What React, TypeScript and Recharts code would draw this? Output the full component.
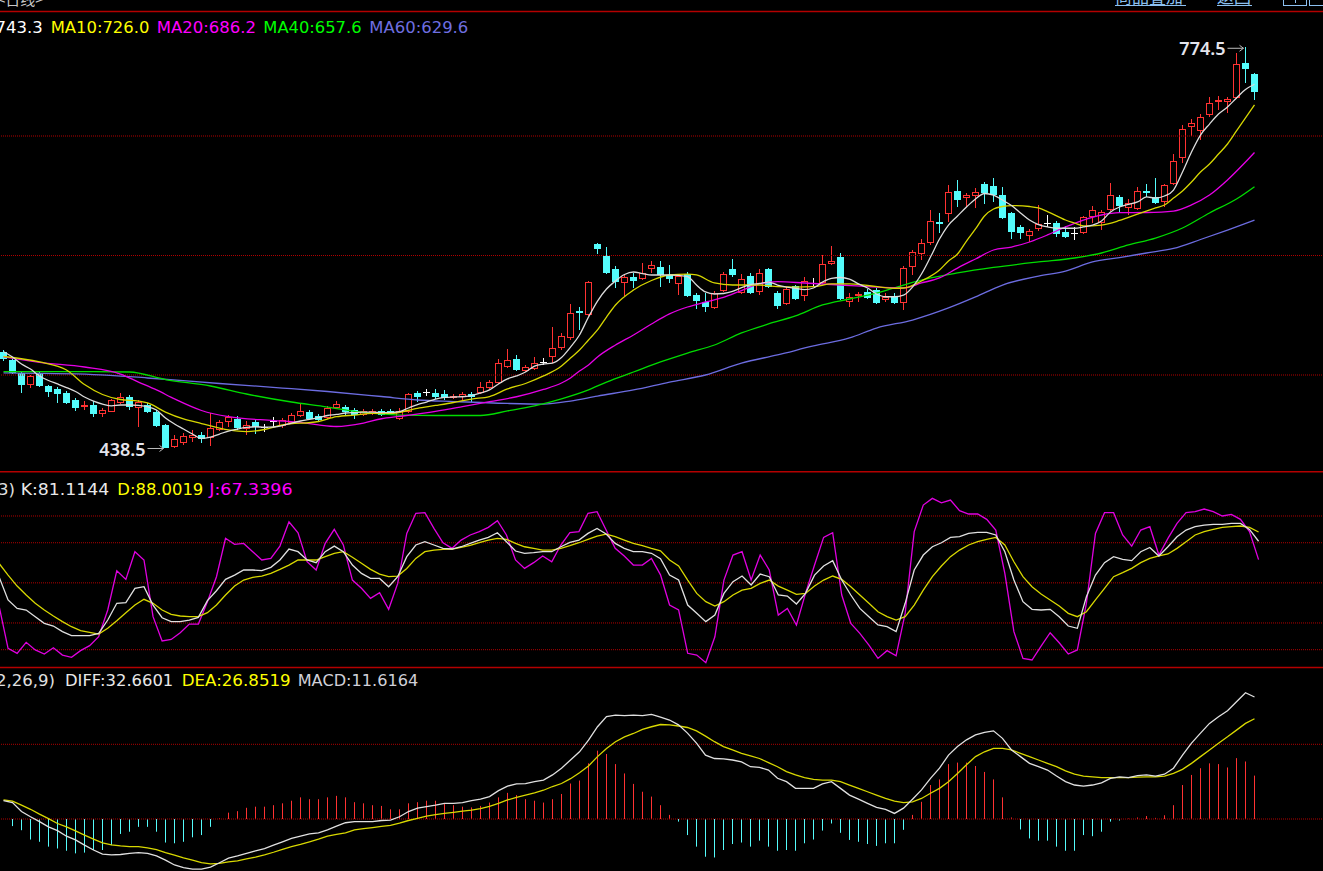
import React from "react";
import { ComposedChart, Bar, Line, XAxis, YAxis, ReferenceLine, ReferenceDot } from "recharts";

// ---------- categories (trading-day slots; last 7 slots are empty space on the right) ----------
const categories: number[] = Array.from({ length: 147 }, (_, i) => i);

// ---------- candles ----------
const opens = [
  519.2, 512.6, 501.7, 491.6, 501.7, 490.8, 488.3, 484.9, 479.1, 473.2,
  474.9, 467.4, 469.0, 476.6, 481.6, 472.4, 474.9, 469.0, 458.2, 439.8,
  443.1, 447.3, 449.8, 447.3, 454.0, 460.7, 463.2, 454.8, 460.7, 456.5,
  461.5, 457.3, 459.8, 465.7, 469.0, 465.7, 464.0, 472.4, 473.2, 470.7,
  466.5, 467.4, 469.9, 469.9, 463.2, 469.0, 484.9, 485.8, 484.9, 484.1,
  480.8, 481.6, 484.1, 484.9, 489.1, 493.3, 506.7, 513.4, 503.3, 505.0,
  510.9, 515.1, 522.6, 530.9, 553.6, 550.2, 609.6, 599.6, 588.7, 577.0,
  582.0, 580.3, 588.7, 590.4, 583.7, 576.1, 584.5, 567.0, 561.1, 556.1,
  570.3, 588.7, 568.6, 582.8, 569.5, 588.7, 568.6, 559.4, 574.5, 566.1,
  577.0, 577.0, 592.9, 598.7, 561.1, 566.1, 569.5, 571.1, 562.8, 566.1,
  560.3, 590.4, 601.3, 610.5, 628.0, 634.7, 654.0, 648.1, 649.8, 659.8,
  658.2, 650.6, 635.6, 623.8, 616.3, 622.2, 627.2, 627.2, 619.7, 618.8,
  618.8, 632.2, 627.2, 638.1, 649.0, 639.8, 638.9, 654.0, 649.0, 644.8,
  659.8, 681.6, 707.5, 704.2, 717.6, 728.5, 728.5, 731.8, 761.1, 751.9,
];
const highs = [
  520.9, 514.2, 502.5, 500.0, 502.5, 491.6, 490.0, 486.6, 480.8, 478.2,
  478.2, 472.4, 479.9, 484.9, 483.3, 479.1, 476.6, 470.7, 459.0, 449.8,
  451.5, 454.0, 452.3, 468.2, 462.3, 466.5, 465.7, 461.5, 462.3, 459.0,
  464.9, 464.0, 468.2, 475.7, 470.7, 467.4, 474.1, 478.2, 474.9, 472.4,
  471.5, 471.5, 471.5, 471.5, 472.4, 484.9, 486.6, 488.3, 488.3, 487.5,
  484.1, 485.8, 485.8, 494.1, 495.8, 513.4, 521.8, 516.7, 508.4, 515.1,
  514.2, 540.2, 535.2, 559.4, 556.9, 578.7, 610.5, 607.1, 591.2, 583.7,
  585.4, 593.7, 595.4, 595.4, 592.0, 584.5, 586.2, 568.6, 568.6, 570.3,
  586.2, 597.1, 584.5, 585.4, 588.7, 589.5, 570.3, 573.6, 575.3, 582.0,
  581.2, 600.4, 607.9, 602.1, 568.6, 569.5, 572.0, 572.8, 568.6, 568.6,
  591.2, 604.6, 613.8, 638.1, 635.6, 659.0, 663.2, 652.3, 656.5, 661.5,
  664.8, 657.3, 636.4, 625.5, 622.2, 642.3, 633.9, 628.9, 624.7, 623.9,
  633.1, 641.4, 638.1, 660.7, 650.6, 647.3, 657.3, 659.8, 664.8, 659.8,
  684.9, 709.2, 714.2, 718.4, 732.6, 733.5, 732.6, 769.4, 774.5, 752.7,
];
const lows = [
  511.7, 500.8, 484.9, 489.1, 490.0, 481.6, 476.6, 475.7, 469.9, 470.7,
  464.9, 464.9, 469.0, 475.7, 470.7, 456.5, 468.2, 456.5, 438.5, 438.9,
  441.4, 443.9, 443.1, 440.6, 453.1, 456.5, 454.0, 449.8, 450.6, 452.3,
  456.5, 455.6, 459.0, 464.9, 462.3, 461.5, 463.2, 471.5, 465.7, 463.2,
  465.7, 466.5, 465.7, 466.5, 462.3, 468.2, 477.4, 482.4, 479.9, 479.1,
  479.9, 479.1, 477.4, 484.1, 488.3, 492.5, 505.9, 503.3, 502.5, 504.2,
  508.4, 510.0, 520.9, 529.3, 537.7, 549.4, 601.3, 584.5, 572.8, 566.1,
  572.8, 579.5, 585.4, 573.6, 577.0, 567.0, 565.3, 555.2, 552.7, 555.2,
  569.5, 582.0, 567.8, 567.8, 567.0, 572.8, 555.2, 558.6, 562.8, 561.9,
  573.6, 576.1, 592.0, 562.8, 556.9, 561.1, 563.6, 559.4, 561.1, 559.4,
  554.4, 583.7, 596.2, 608.8, 618.8, 628.0, 640.6, 640.6, 639.8, 643.1,
  644.8, 630.5, 613.8, 613.8, 611.3, 620.5, 623.9, 615.5, 614.6, 613.0,
  618.0, 627.2, 621.3, 637.2, 636.4, 633.9, 638.1, 649.0, 643.1, 640.6,
  659.0, 677.4, 700.0, 696.6, 715.9, 721.8, 719.2, 731.0, 744.3, 730.1,
];
const closes = [
  513.4, 501.7, 491.6, 499.2, 490.8, 485.8, 484.1, 476.6, 472.4, 474.9,
  467.4, 470.7, 479.1, 481.6, 473.2, 477.4, 469.0, 457.3, 438.9, 446.4,
  449.0, 449.8, 446.4, 455.6, 460.7, 464.9, 455.6, 458.2, 456.5, 456.5,
  461.5, 462.3, 466.5, 469.9, 463.2, 462.3, 472.4, 475.7, 469.0, 466.5,
  469.9, 469.9, 466.5, 467.4, 469.9, 484.1, 481.6, 485.8, 481.6, 480.8,
  482.4, 484.1, 481.6, 489.9, 494.1, 510.0, 512.6, 504.2, 506.7, 510.0,
  510.9, 522.6, 532.6, 551.9, 551.9, 577.8, 605.4, 585.4, 577.8, 582.0,
  578.7, 585.4, 592.0, 583.7, 580.3, 582.8, 566.1, 561.9, 556.9, 568.6,
  584.5, 583.7, 580.3, 568.6, 585.4, 573.6, 557.7, 572.0, 563.6, 578.7,
  577.0, 592.9, 595.4, 563.6, 565.3, 567.8, 564.4, 560.3, 565.3, 560.3,
  589.5, 602.9, 610.5, 628.9, 626.4, 653.1, 646.4, 650.6, 653.1, 652.3,
  650.6, 631.4, 619.7, 618.8, 620.5, 626.4, 627.2, 618.0, 615.5, 618.8,
  632.2, 638.1, 636.4, 650.6, 641.4, 643.9, 654.0, 652.3, 643.9, 659.0,
  679.1, 705.9, 710.9, 715.9, 727.6, 730.1, 731.0, 760.2, 756.1, 736.8,
];

// ---------- moving averages ----------
const ma5 = [
  519.5, 515.1, 509.2, 505.0, 499.2, 495.4, 492.5, 489.5, 486.2, 481.6,
  478.2, 475.7, 474.1, 474.9, 474.9, 474.5, 473.5, 470.7, 464.0, 459.0,
  454.8, 450.6, 446.9, 448.1, 450.6, 453.1, 454.8, 456.1, 456.7, 456.3,
  456.5, 457.7, 459.8, 461.5, 462.8, 464.4, 466.1, 467.0, 468.2, 468.6,
  469.0, 469.0, 468.6, 468.6, 469.3, 472.4, 475.3, 477.4, 479.9, 481.2,
  481.6, 481.8, 482.8, 484.9, 487.5, 492.5, 496.7, 499.2, 502.5, 507.5,
  509.2, 510.0, 514.7, 523.4, 533.5, 548.5, 561.9, 572.0, 578.7, 584.1,
  586.2, 584.9, 583.7, 583.7, 583.7, 583.3, 582.4, 575.3, 569.5, 567.8,
  568.2, 569.9, 573.2, 575.7, 576.6, 577.8, 575.3, 573.6, 572.6, 571.5,
  572.8, 577.8, 580.9, 581.6, 580.3, 576.2, 572.8, 567.8, 565.5, 565.5,
  566.9, 573.6, 584.5, 598.7, 613.8, 625.5, 633.1, 640.6, 647.3, 651.9,
  650.6, 646.4, 641.8, 635.6, 629.7, 625.9, 623.9, 622.8, 622.8, 622.8,
  623.9, 625.5, 628.9, 636.4, 640.6, 642.7, 644.8, 649.0, 648.1, 649.8,
  654.8, 669.9, 686.6, 700.8, 710.0, 718.4, 724.3, 731.8, 738.9, 743.3,
];
// [day index, value] readings of the smoother averages
const ma10Pts: [number, number][] = [
  [0, 515.5], [4, 510.9], [7, 504.2], [9, 492.0], [11, 483.7], [13, 479.5], [15, 478.2], [16, 476.6],
  [18, 469.0], [20, 463.2], [22, 459.4], [25, 454.0], [27, 452.7], [29, 454.4], [31, 458.2], [35, 461.1],
  [37, 465.1], [39, 466.5], [41, 467.9], [43, 467.9], [46, 472.1], [48, 474.5], [50, 477.0], [52, 479.9],
  [54, 482.0], [56, 488.3], [58, 492.9], [60, 499.2], [62, 507.5], [63, 514.2], [64, 520.9], [65, 529.3],
  [66, 537.7], [67, 548.5], [68, 558.6], [70, 571.1], [72, 579.1], [74, 583.7], [76, 584.5], [77, 583.7],
  [79, 577.0], [81, 575.3], [84, 575.3], [86, 573.9], [88, 573.6], [90, 573.9], [92, 576.2], [94, 576.2],
  [96, 574.9], [99, 572.6], [100, 572.8], [102, 578.7], [104, 587.9], [105, 595.4], [106, 601.3], [107, 612.1],
  [108, 622.2], [109, 633.1], [110, 638.9], [111, 641.0], [112, 641.8], [114, 641.0], [115, 639.8], [116, 636.8],
  [118, 629.7], [119, 627.2], [120, 624.7], [122, 625.5], [124, 629.3], [126, 634.7], [128, 639.8], [129, 642.3],
  [130, 648.1], [131, 654.0], [132, 661.5], [133, 669.9], [134, 676.6], [135, 684.9], [136, 693.3], [137, 704.2],
  [138, 715.1], [139, 726.0],
];
const ma20Pts: [number, number][] = [
  [0, 515.1], [4, 510.5], [9, 506.7], [13, 500.8], [15, 494.1], [17, 487.5], [19, 480.0], [22, 470.3],
  [25, 465.1], [30, 461.9], [33, 460.3], [35, 458.2], [37, 456.9], [40, 459.8], [42, 463.4], [44, 465.3],
  [48, 469.5], [51, 473.5], [54, 477.7], [57, 481.8], [60, 487.9], [62, 493.3], [63, 497.5], [64, 503.3],
  [65, 508.4], [66, 515.1], [68, 525.1], [70, 533.5], [72, 542.7], [74, 551.1], [76, 556.9], [78, 561.1],
  [80, 564.9], [82, 570.7], [84, 576.2], [86, 578.1], [89, 577.0], [93, 575.3], [96, 573.9], [100, 572.8],
  [102, 577.0], [104, 581.2], [106, 589.5], [108, 597.1], [110, 604.6], [112, 607.1], [114, 611.3], [116, 617.2],
  [118, 623.9], [120, 629.7], [122, 633.9], [124, 635.8], [127, 636.0], [130, 637.2], [132, 642.3], [134, 650.6],
  [136, 663.2], [138, 678.2], [139, 686.2],
];
const ma40Pts: [number, number][] = [
  [0, 502.8], [10, 502.8], [14, 502.5], [18, 496.2], [23, 490.8], [27, 484.1], [32, 477.4], [36, 473.2],
  [39, 469.5], [44, 466.5], [48, 466.1], [53, 466.1], [56, 469.9], [59, 474.1], [62, 480.0], [65, 487.5],
  [67, 494.1], [70, 502.5], [73, 510.9], [76, 518.4], [79, 525.1], [82, 535.2], [85, 542.7], [88, 549.4],
  [91, 558.6], [94, 563.6], [97, 568.6], [100, 575.3], [103, 581.2], [106, 585.4], [110, 590.0], [115, 594.6],
  [119, 597.9], [122, 602.1], [125, 608.8], [128, 614.6], [131, 623.0], [134, 635.6], [137, 647.3], [139, 657.6],
];
const ma60Pts: [number, number][] = [
  [0, 501.7], [10, 500.4], [16, 497.5], [24, 492.9], [31, 489.1], [36, 486.2], [42, 482.0], [46, 479.1],
  [50, 477.8], [56, 476.2], [60, 475.7], [63, 478.2], [66, 482.4], [70, 487.5], [74, 494.1], [78, 500.0],
  [82, 510.0], [86, 516.8], [90, 524.3], [94, 531.0], [97, 539.3], [101, 546.0], [105, 556.1], [108, 565.3],
  [111, 575.3], [115, 582.8], [118, 587.0], [121, 594.6], [124, 598.3], [127, 602.1], [130, 605.9], [133, 613.4],
  [136, 621.3], [139, 629.6],
];

// ---------- KDJ ----------
const kVals = [
  54.6, 37.2, 30.9, 29.7, 24.7, 19.7, 17.7, 13.5, 10.5, 10.5,
  10.5, 12.2, 22.2, 34.7, 35.2, 45.9, 47.1, 33.4, 23.9, 21.0,
  21.0, 22.2, 24.2, 36.7, 44.1, 52.6, 55.8, 59.6, 59.6, 59.1,
  61.6, 67.1, 75.3, 73.3, 67.1, 65.1, 73.3, 77.5, 73.3, 63.3,
  57.1, 53.3, 53.3, 47.1, 54.6, 69.6, 78.3, 80.8, 78.3, 75.8,
  75.3, 77.0, 79.5, 82.0, 84.0, 87.5, 80.8, 73.8, 72.1, 72.6,
  73.3, 73.3, 77.0, 80.3, 82.0, 87.0, 90.7, 86.5, 79.5, 75.8,
  73.3, 73.3, 72.1, 68.0, 55.8, 52.1, 33.4, 27.2, 21.0, 25.9,
  42.1, 50.9, 55.1, 48.4, 56.6, 54.6, 40.9, 40.1, 34.2, 42.1,
  55.8, 62.6, 66.6, 52.1, 40.9, 30.9, 24.7, 18.5, 17.2, 13.5,
  34.7, 59.6, 70.8, 77.0, 80.0, 84.0, 84.5, 87.0, 87.8, 87.8,
  85.8, 73.3, 52.1, 35.9, 30.2, 29.7, 30.2, 24.7, 17.7, 16.0,
  39.6, 55.8, 65.1, 69.6, 67.6, 66.6, 73.3, 76.5, 70.1, 77.0,
  84.5, 89.5, 92.0, 93.2, 93.7, 93.7, 94.5, 94.5, 90.0, 81.1144,
];
const dVals = [
  64.6, 55.8, 47.6, 40.9, 34.7, 29.7, 25.2, 21.0, 17.2, 14.2,
  13.0, 11.7, 16.0, 21.7, 27.7, 33.4, 37.7, 34.7, 29.7, 26.4,
  25.2, 24.7, 24.7, 27.7, 33.4, 40.9, 47.6, 52.1, 54.1, 55.1,
  57.1, 60.1, 63.3, 67.1, 67.1, 67.1, 69.6, 72.1, 73.3, 69.1,
  64.6, 60.1, 56.6, 54.6, 55.1, 60.8, 68.3, 73.3, 74.5, 75.0,
  75.3, 76.5, 78.0, 80.0, 82.0, 83.3, 82.5, 79.5, 77.0, 75.8,
  74.5, 74.5, 75.8, 77.8, 80.0, 82.5, 85.0, 86.5, 84.5, 82.0,
  79.5, 77.8, 75.8, 74.0, 67.1, 62.6, 52.1, 42.1, 35.9, 32.7,
  35.9, 40.9, 44.6, 45.9, 49.6, 52.1, 47.6, 44.6, 41.4, 42.1,
  47.6, 52.1, 55.1, 52.6, 47.1, 40.9, 34.7, 28.4, 24.7, 22.2,
  24.7, 33.4, 44.6, 54.6, 62.6, 69.6, 74.5, 78.3, 80.8, 82.5,
  84.0, 78.3, 65.8, 54.6, 47.1, 41.6, 37.2, 32.7, 27.2, 24.7,
  28.4, 37.2, 45.9, 54.6, 57.6, 60.8, 65.1, 68.3, 70.1, 71.6,
  75.8, 80.8, 85.8, 88.3, 90.0, 91.5, 92.0, 92.5, 91.5, 88.0019,
];
const jVals = [
  33.0, 1.0, -2.7, 5.5, -0.2, -3.2, 1.5, -4.0, -5.7, -0.7,
  3.0, 9.7, 29.7, 59.1, 52.6, 73.3, 67.1, 24.7, 6.5, 7.7,
  12.7, 19.2, 19.2, 35.9, 54.6, 83.3, 78.8, 79.5, 73.3, 67.1,
  68.3, 77.5, 95.7, 87.5, 65.8, 59.6, 79.5, 90.0, 78.3, 52.1,
  45.9, 38.4, 42.6, 30.2, 49.6, 87.0, 102.0, 102.5, 90.8, 80.0,
  75.8, 82.0, 85.8, 88.3, 91.5, 96.5, 85.8, 67.1, 60.8, 65.1,
  70.1, 65.8, 78.3, 87.5, 88.3, 102.0, 103.2, 89.5, 75.8, 70.1,
  63.3, 63.3, 68.3, 56.0, 33.4, 29.7, -2.7, -4.0, -9.7, 9.7,
  52.1, 70.8, 73.3, 52.1, 70.8, 59.6, 25.9, 30.9, 18.5, 42.1,
  63.3, 84.0, 87.5, 40.9, 19.7, 12.2, 3.5, -6.5, -0.7, -4.5,
  27.2, 88.3, 108.2, 113.2, 109.9, 111.9, 104.0, 101.5, 101.5, 97.5,
  89.5, 57.1, 13.5, -6.5, -7.7, 2.7, 12.7, 5.2, -3.2, -0.2,
  34.7, 87.0, 102.5, 102.5, 85.8, 77.5, 89.5, 92.0, 70.8, 83.3,
  94.5, 102.5, 103.2, 105.2, 103.2, 100.0, 101.2, 97.5, 88.3, 67.3396,
];

// ---------- MACD ----------
const diffVals = [
  4.9, 4.4, 2.0, 0.6, -0.7, -2.1, -3.1, -4.6, -5.6, -7.0,
  -8.3, -9.4, -9.6, -9.5, -9.2, -9.0, -9.2, -9.9, -11.0, -12.3,
  -13.0, -13.4, -13.4, -12.9, -11.7, -10.5, -9.9, -9.2, -8.5, -7.9,
  -7.0, -6.1, -5.2, -4.6, -4.0, -3.7, -2.9, -1.9, -1.0, -0.7,
  -0.7, -0.7, -0.4, -0.3, 0.6, 2.0, 2.9, 3.3, 3.7, 4.2,
  4.2, 4.4, 4.9, 5.3, 6.0, 7.6, 8.8, 9.4, 9.5, 10.0,
  10.4, 11.8, 13.6, 15.8, 18.0, 21.1, 24.7, 27.4, 27.8, 27.7,
  27.8, 27.7, 28.0, 27.3, 26.5, 25.2, 23.0, 20.3, 17.1, 16.2,
  16.1, 15.8, 15.3, 14.0, 13.8, 13.1, 10.9, 10.0, 8.2, 8.2,
  8.2, 9.4, 10.0, 8.2, 6.4, 5.3, 4.2, 3.1, 2.6, 1.5,
  2.9, 5.3, 7.8, 10.9, 13.6, 17.1, 19.4, 21.2, 22.5, 23.2,
  23.6, 21.6, 18.5, 16.7, 14.9, 14.0, 13.1, 11.5, 10.0, 9.1,
  8.8, 9.1, 9.7, 10.9, 11.3, 11.1, 11.6, 11.8, 11.5, 12.0,
  13.6, 17.1, 20.3, 23.0, 25.6, 27.4, 29.0, 31.4, 33.8, 32.6601,
];
const deaVals = [
  5.1, 4.8, 3.7, 2.6, 1.3, 0.1, -1.2, -2.1, -3.2, -4.3,
  -5.4, -6.4, -6.9, -7.2, -7.4, -7.4, -7.7, -8.2, -9.0, -9.7,
  -10.4, -11.0, -11.7, -12.0, -11.9, -11.5, -11.2, -10.7, -10.2, -9.6,
  -8.9, -8.1, -7.4, -6.8, -6.1, -5.4, -4.6, -4.1, -3.7, -2.9,
  -2.6, -2.3, -2.0, -1.7, -1.1, -0.4, 0.2, 0.8, 1.2, 1.5,
  1.8, 2.1, 2.4, 2.8, 3.4, 4.2, 5.1, 5.8, 6.4, 7.0,
  7.7, 8.7, 9.5, 10.8, 12.4, 14.2, 16.7, 18.9, 20.7, 22.0,
  22.9, 24.0, 24.7, 25.3, 25.2, 24.9, 24.5, 23.6, 22.2, 20.7,
  19.4, 18.5, 17.6, 16.9, 16.2, 15.1, 14.0, 12.7, 11.8, 11.1,
  10.6, 10.4, 10.4, 10.0, 9.1, 8.2, 7.3, 6.4, 5.5, 4.8,
  4.4, 4.6, 5.5, 6.9, 8.2, 10.0, 12.2, 14.5, 16.7, 18.0,
  18.9, 18.9, 18.5, 17.6, 16.7, 15.8, 14.9, 14.0, 12.9, 12.0,
  11.5, 11.3, 11.1, 11.1, 11.1, 11.1, 11.2, 11.3, 11.3, 11.5,
  12.2, 13.3, 14.9, 16.7, 18.5, 20.3, 22.0, 23.8, 25.6, 26.8519,
];
const macdVals = [
  0, -1.9, -3.0, -5.5, -6.1, -7.4, -7.9, -8.5, -9.2, -9.0,
  -8.3, -8.3, -7.0, -4.0, -3.4, -2.1, -2.1, -3.4, -6.3, -6.5,
  -6.1, -4.9, -4.3, -2.1, 0.2, 1.7, 2.1, 3.0, 3.3, 3.3,
  3.7, 4.2, 4.9, 5.8, 5.3, 5.3, 5.8, 6.2, 5.8, 4.5,
  4.2, 3.7, 3.5, 2.6, 2.6, 4.2, 4.5, 4.9, 4.9, 4.0,
  3.7, 3.3, 3.1, 3.5, 4.4, 5.8, 7.0, 6.4, 5.3, 4.9,
  4.4, 5.3, 6.7, 9.5, 10.3, 14.9, 18.3, 17.4, 14.7, 12.2,
  9.4, 7.3, 6.0, 3.7, 1.1, -0.7, -4.3, -7.4, -10.1, -10.3,
  -8.3, -6.7, -6.3, -7.4, -5.8, -7.4, -8.5, -8.3, -8.5, -6.5,
  -5.5, -3.1, -1.2, -3.7, -5.6, -6.1, -6.7, -7.2, -6.5, -6.5,
  -2.9, 1.1, 4.6, 9.1, 10.6, 14.7, 15.1, 15.1, 14.2, 12.6,
  10.6, 5.8, 0.4, -2.8, -5.2, -5.8, -5.8, -7.4, -8.5, -8.5,
  -4.3, -4.6, -3.4, -0.7, -0.4, 0.1, 0.4, 0.8, 0.3, 1.0,
  3.7, 9.1, 11.8, 13.6, 14.9, 14.7, 13.8, 16.3, 15.4, 11.6164,
];

// ---------- grid levels ----------
const priceGrid = [500, 600, 700];
const kdjGrid = [0, 20, 50, 80, 100];
const macdGrid = [0, 20];

// ---------- build table ----------
const ma10Map = new Map<number, number>(ma10Pts);
const ma20Map = new Map<number, number>(ma20Pts);
const ma40Map = new Map<number, number>(ma40Pts);
const ma60Map = new Map<number, number>(ma60Pts);

const rows = categories.map((c, i) => ({
  idx: c,
  open: opens[i] ?? null,
  high: highs[i] ?? null,
  low: lows[i] ?? null,
  close: closes[i] ?? null,
  ma5: ma5[i] ?? null,
  ma10: ma10Map.get(i) ?? null,
  ma20: ma20Map.get(i) ?? null,
  ma40: ma40Map.get(i) ?? null,
  ma60: ma60Map.get(i) ?? null,
  k: kVals[i] ?? null,
  d: dVals[i] ?? null,
  j: jVals[i] ?? null,
  diff: diffVals[i] ?? null,
  dea: deaVals[i] ?? null,
  macd: macdVals[i] ?? null,
}));

const hiVal = Math.max(...highs);
const hiIdx = highs.indexOf(hiVal);
const loVal = Math.min(...lows);
const loIdx = lows.indexOf(loVal);

// ---------- styles ----------
const UP = "#FF3232";
const DOWN = "#54FCFC";
const DOJI = "#FFFFFF";
const GRID = "#B00000";
const SEP = "#B40000";
const W = 1323;
const MARGIN = { top: 0, right: 1, bottom: 0, left: -1 };
const LEG_FONT = "DejaVu Sans";

const candleRange = (d: any) => (d.high == null ? null : [d.low, d.high]);

function CandleShape(props: any) {
  const { x, y, width, height, payload } = props;
  if (!payload || payload.high == null || x == null) return null;
  const { open, close, high, low } = payload;
  const top = Math.min(y, y + height);
  const h = Math.abs(height);
  const k = high > low ? h / (high - low) : 0;
  const py = (v: number) => top + (high - v) * k;
  const cx = Math.floor(x + width / 2) + 0.5;
  const yH = Math.round(py(high));
  const yL = Math.round(py(low));
  const yO = Math.round(py(open));
  const yC = Math.round(py(close));
  const bTop = Math.min(yO, yC);
  const bBot = Math.max(yO, yC);
  if (open === close) {
    return (
      <g>
        <line x1={cx} x2={cx} y1={yH} y2={yL} stroke={DOJI} strokeWidth={1} />
        <line x1={cx - 3.5} x2={cx + 3.5} y1={yO + 0.5} y2={yO + 0.5} stroke={DOJI} strokeWidth={1} />
      </g>
    );
  }
  if (close > open) {
    const bh = bBot - bTop;
    if (bh <= 1) {
      return (
        <g>
          <line x1={cx} x2={cx} y1={yH} y2={yL} stroke={UP} strokeWidth={1} />
          <line x1={cx - 3.5} x2={cx + 3.5} y1={bTop + 0.5} y2={bTop + 0.5} stroke={UP} strokeWidth={1} />
        </g>
      );
    }
    return (
      <g>
        <line x1={cx} x2={cx} y1={yH} y2={bTop} stroke={UP} strokeWidth={1} />
        <line x1={cx} x2={cx} y1={bBot} y2={yL} stroke={UP} strokeWidth={1} />
        <rect x={cx - 3} y={bTop + 0.5} width={6} height={bh - 1} fill="#000" stroke={UP} strokeWidth={1} />
      </g>
    );
  }
  return (
    <g>
      <line x1={cx} x2={cx} y1={yH} y2={yL} stroke={DOWN} strokeWidth={1} />
      <rect x={cx - 3.5} y={bTop} width={7} height={Math.max(bBot - bTop, 1)} fill={DOWN} />
    </g>
  );
}

function MacdBarShape(props: any) {
  const { x, y, width, height, payload } = props;
  if (!payload || payload.macd == null || payload.macd === 0 || x == null) return null;
  const cx = Math.floor(x + width / 2) + 0.5;
  const y1 = Math.min(y, y + height);
  const y2 = Math.max(y, y + height);
  return <line x1={cx} x2={cx} y1={y1} y2={y2} stroke={payload.macd > 0 ? UP : DOWN} strokeWidth={1} />;
}

function ExtremeMark(props: any, text: string, dy: number) {
  const { cx, cy } = props;
  if (cx == null || cy == null) return <g />;
  const ay = cy + (dy > 7.8 ? 1.3 : 0);
  return (
    <g>
      <text x={cx - 20} y={cy + dy} textAnchor="end" fill="#E4E4EC" fontFamily="Noto Sans" fontWeight={600} fontSize={18}>
        {text}
      </text>
      <line x1={cx - 18} x2={cx - 2} y1={ay} y2={ay} stroke="#BDBDBD" strokeWidth={1} />
      <path d={`M${cx - 6},${ay - 3} L${cx - 2},${ay} L${cx - 6},${ay + 3}`} stroke="#BDBDBD" fill="none" strokeWidth={1} />
    </g>
  );
}

const lineCommon = { dot: false, activeDot: false, isAnimationActive: false, strokeWidth: 1.3 } as const;

export default function App() {
  return (
    <div
      style={{
        position: "fixed",
        left: 0,
        top: 0,
        width: W,
        height: 871,
        background: "#000",
        overflow: "hidden",
      }}
    >
      {/* main price panel */}
      <div style={{ position: "absolute", left: 0, top: 12 }}>
        <ComposedChart width={W} height={460} data={rows} margin={MARGIN} barCategoryGap={0}>
          <XAxis dataKey="idx" type="category" hide />
          <YAxis type="number" domain={[418.83, 803.77]} hide allowDataOverflow />
          {priceGrid.map((v) => (
            <ReferenceLine key={v} y={v} stroke={GRID} strokeDasharray="1 1" strokeWidth={1} />
          ))}
          <Bar dataKey={candleRange} shape={CandleShape} isAnimationActive={false} />
          <Line dataKey="ma60" stroke="#6C6CE0" type="monotone" connectNulls {...lineCommon} />
          <Line dataKey="ma40" stroke="#00DC00" type="monotone" connectNulls {...lineCommon} />
          <Line dataKey="ma20" stroke="#E600E6" type="monotone" connectNulls {...lineCommon} />
          <Line dataKey="ma10" stroke="#D6D600" type="monotone" connectNulls {...lineCommon} />
          <Line dataKey="ma5" stroke="#DCDCDC" type="monotone" {...lineCommon} />
          <ReferenceDot
            x={hiIdx}
            y={hiVal}
            r={0}
            ifOverflow="visible"
            shape={(p: any) => ExtremeMark(p, hiVal.toFixed(1), 8)}
          />
          <ReferenceDot
            x={loIdx}
            y={loVal}
            r={0}
            ifOverflow="visible"
            shape={(p: any) => ExtremeMark(p, loVal.toFixed(1), 7.5)}
          />
        </ComposedChart>
      </div>

      {/* KDJ panel */}
      <div style={{ position: "absolute", left: 0, top: 472 }}>
        <ComposedChart width={W} height={196} data={rows} margin={MARGIN}>
          <XAxis dataKey="idx" type="category" hide />
          <YAxis type="number" domain={[-13.69, 132.91]} hide allowDataOverflow />
          {kdjGrid.map((v) => (
            <ReferenceLine key={v} y={v} stroke={GRID} strokeDasharray="1 1" strokeWidth={1} />
          ))}
          <Line dataKey="j" stroke="#E000E0" type="linear" {...lineCommon} />
          <Line dataKey="d" stroke="#D8D800" type="linear" {...lineCommon} />
          <Line dataKey="k" stroke="#E0E0E0" type="linear" {...lineCommon} />
        </ComposedChart>
      </div>

      {/* MACD panel */}
      <div style={{ position: "absolute", left: 0, top: 668 }}>
        <ComposedChart width={W} height={203} data={rows} margin={MARGIN} barCategoryGap={0}>
          <XAxis dataKey="idx" type="category" hide />
          <YAxis type="number" domain={[-13.92, 40.43]} hide allowDataOverflow />
          {macdGrid.map((v) => (
            <ReferenceLine key={v} y={v} stroke={GRID} strokeDasharray="1 1" strokeWidth={1} />
          ))}
          <Bar dataKey="macd" shape={MacdBarShape} isAnimationActive={false} />
          <Line dataKey="dea" stroke="#D8D800" type="linear" {...lineCommon} />
          <Line dataKey="diff" stroke="#E0E0E0" type="linear" {...lineCommon} />
        </ComposedChart>
      </div>

      {/* frame, titles and legends */}
      <svg width={W} height={871} style={{ position: "absolute", left: 0, top: 0, pointerEvents: "none" }}>
        <line x1={0} x2={W} y1={11.5} y2={11.5} stroke={SEP} strokeWidth={1.5} />
        <line x1={0} x2={W} y1={471.8} y2={471.8} stroke={SEP} strokeWidth={1.5} />
        <line x1={0} x2={W} y1={667.5} y2={667.5} stroke={SEP} strokeWidth={1.5} />

        <text x={-3} y={5} fill="#C8C8C8" fontFamily="Noto Sans CJK SC" fontSize={15}>
          {"<日线>"}
        </text>
        <g fill="#8CC0F0" fontFamily="Noto Sans CJK SC" fontSize={17}>
          <text x={1115} y={3}>商品叠加</text>
          <text x={1217} y={3}>返回</text>
        </g>
        <line x1={1115} x2={1186} y1={5.5} y2={5.5} stroke="#8CC0F0" strokeWidth={1} />
        <line x1={1217} x2={1252} y1={5.5} y2={5.5} stroke="#8CC0F0" strokeWidth={1} />
        <rect x={1283.5} y={-10} width={23} height={15.5} fill="none" stroke="#8CC0F0" strokeWidth={1} />
        <rect x={1309.5} y={-10} width={20} height={15.5} fill="none" stroke="#8CC0F0" strokeWidth={1} />
        <line x1={1295.5} x2={1295.5} y1={-4} y2={3} stroke="#8CC0F0" strokeWidth={1} />

        <g fontFamily={LEG_FONT} fontSize={16.5}>
          <text x={42.7} y={33} textAnchor="end" fill="#FFFFFF">MA5:743.3</text>
          <text x={50.7} y={33} fill="#FFFF00" textLength={98.7} lengthAdjust="spacingAndGlyphs">MA10:726.0</text>
          <text x={156.7} y={33} fill="#FF00FF" textLength={99.3} lengthAdjust="spacingAndGlyphs">MA20:686.2</text>
          <text x={263.3} y={33} fill="#00FF00" textLength={98.3} lengthAdjust="spacingAndGlyphs">MA40:657.6</text>
          <text x={369.3} y={33} fill="#6F6FE0" textLength={99} lengthAdjust="spacingAndGlyphs">MA60:629.6</text>

          <text x={15} y={495} textAnchor="end" fill="#E0E0E0">KDJ(9,3,3)</text>
          <text x={20.7} y={495} fill="#E8E8E8" textLength={88.7} lengthAdjust="spacingAndGlyphs">K:81.1144</text>
          <text x={117.3} y={495} fill="#FFFF00" textLength={86} lengthAdjust="spacingAndGlyphs">D:88.0019</text>
          <text x={209.3} y={495} fill="#FF00FF" textLength={83.3} lengthAdjust="spacingAndGlyphs">J:67.3396</text>

          <text x={55} y={686} textAnchor="end" fill="#E0E0E0">MACD(12,26,9)</text>
          <text x={65} y={686} fill="#E8E8E8" textLength={108.3} lengthAdjust="spacingAndGlyphs">DIFF:32.6601</text>
          <text x={181.7} y={686} fill="#FFFF00" textLength={109} lengthAdjust="spacingAndGlyphs">DEA:26.8519</text>
          <text x={297.7} y={686} fill="#D0D0D8" textLength={120.6} lengthAdjust="spacingAndGlyphs">MACD:11.6164</text>
        </g>
      </svg>
    </div>
  );
}
